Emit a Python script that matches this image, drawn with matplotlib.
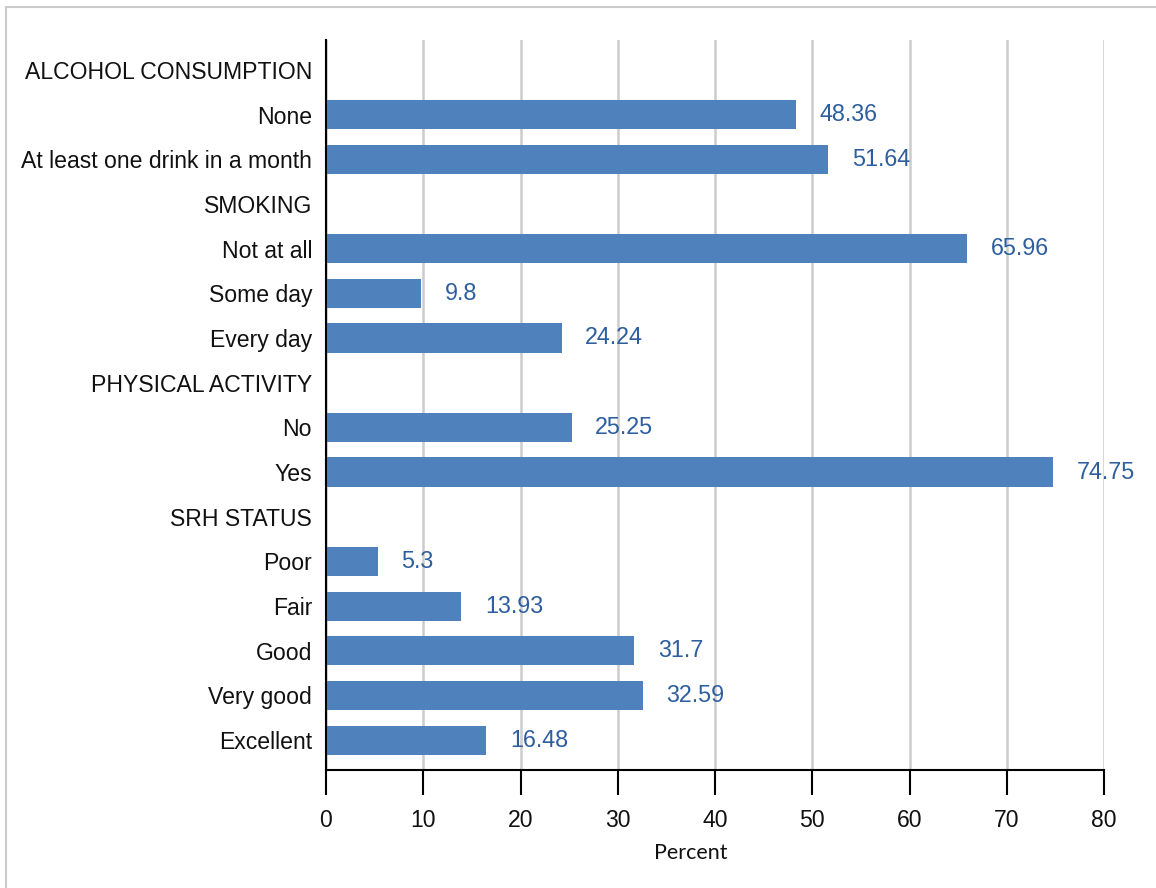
import matplotlib
matplotlib.use("Agg")
import matplotlib.pyplot as plt
from matplotlib.lines import Line2D
import numpy as np

categories = ["ALCOHOL CONSUMPTION", "None", "At least one drink in a month",
              "SMOKING", "Not at all", "Some day", "Every day",
              "PHYSICAL ACTIVITY", "No", "Yes",
              "SRH STATUS", "Poor", "Fair", "Good", "Very good", "Excellent"]
values = [None, 48.36, 51.64,
          None, 65.96, 9.8, 24.24,
          None, 25.25, 74.75,
          None, 5.3, 13.93, 31.7, 32.59, 16.48]
xticks = [0, 10, 20, 30, 40, 50, 60, 70, 80]

plt.rcParams['font.family'] = ['Liberation Sans', 'DejaVu Sans']

fig = plt.figure(figsize=(11.56, 8.88), dpi=100)
ax = fig.add_axes([326/1156, 1-770/888, (1104-326)/1156, (770-40)/888])

bar_color = "#4F81BD"
label_color = "#2E5E9E"

y = np.arange(len(categories))
for yi, v in zip(y, values):
    if v is None:
        continue
    ax.barh(yi, v, height=0.65, color=bar_color, zorder=3)
    ax.annotate(str(v), (v, yi), xytext=(17, 0), textcoords="offset points",
                color=label_color, fontsize=16.8, va="center", ha="left", zorder=4)

ax.set_ylim(len(categories) - 1 + 0.67, -0.67)
ax.set_xlim(0, 80)
ax.set_yticks(y)
ax.set_yticklabels(categories, fontsize=16.6, color="#111111")
ax.set_xticks(xticks)
ax.set_xticklabels([str(t) for t in xticks], fontsize=16.6, color="#111111")
ax.tick_params(axis="y", length=0, pad=10)
ax.tick_params(axis="x", length=18, width=1.5, direction="out", pad=10, color="black")

ax.grid(axis="x", color="#CCCCCC", linewidth=1.8, zorder=0)
ax.set_axisbelow(True)
for s in ["top", "right"]:
    ax.spines[s].set_visible(False)
for s in ["left", "bottom"]:
    ax.spines[s].set_linewidth(1.5)
    ax.spines[s].set_color("black")
    ax.spines[s].set_zorder(5)

ax.set_xlabel("Percent", fontsize=15.5, family=["Lato", "DejaVu Sans"], color="#111111")
ax.xaxis.set_label_coords((691-326)/(1104-326), -(843-770)/(770-40))

fig.add_artist(Line2D([6/1156, 1], [1-7/888, 1-7/888], color="#CCCCCC", linewidth=1.5,
                      transform=fig.transFigure))
fig.add_artist(Line2D([6/1156, 6/1156], [0, 1-7/888], color="#CCCCCC", linewidth=1.5,
                      transform=fig.transFigure))

fig.savefig("out.png", dpi=100)
